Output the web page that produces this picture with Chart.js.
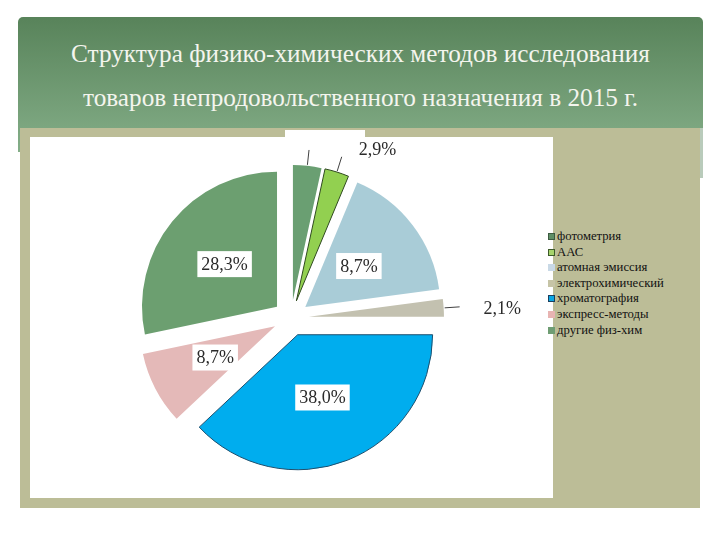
<!DOCTYPE html>
<html lang="ru">
<head>
    <meta charset="UTF-8">
    <title>Структура физико-химических методов</title>
    <script src="https://cdn.jsdelivr.net/npm/chart.js"></script>
    <style>
        body { margin: 0; width: 720px; height: 540px; background: #fff; position: relative; overflow: hidden; font-family: "Liberation Serif", "DejaVu Serif", serif; }
        .head { position: absolute; left: 18px; top: 17px; width: 685px; height: 135px; border-radius: 5px 5px 0 0;
                background: linear-gradient(#58835a, #84ae88); }
        .head-strip { position: absolute; left: 700px; top: 128px; width: 3px; height: 50px; background: #b9cbbb; }
        .title { position: absolute; left: 18px; width: 685px; text-align: center; color: #f4f5ee; font-size: 26px; transform: scaleX(0.97); }
        .panel { position: absolute; left: 20px; top: 128px; width: 680px; height: 380px; background: #bcbd97; }
        .sheet { position: absolute; left: 30px; top: 137px; width: 523px; height: 361px; background: #fff; }
        .tab { position: absolute; left: 285px; top: 130px; width: 80px; height: 8px; background: #fff; }
        #chart { position: absolute; left: 0; top: 0; }
        .legend { position: absolute; left: 548px; top: 229px; font-size: 12.7px; color: #111; line-height: 15.6px; }
        .legend div { white-space: nowrap; }
        .legend span { display: inline-block; width: 7px; height: 7px; margin-right: 2px; vertical-align: 0px; box-sizing: border-box; }
    </style>
</head>
<body>
    <div class="head"></div>
    <div class="head-strip"></div>
    <div class="title" style="top: 39px;">Структура физико-химических методов исследования</div>
    <div class="title" style="top: 83px;">товаров непродовольственного назначения в 2015 г.</div>
    <div class="panel"></div>
    <div class="sheet"></div>
    <div class="tab"></div>
    <div class="legend" id="legend"></div>
    <canvas id="chart" width="720" height="540"></canvas>

    <script>
        // данные диаграммы
        const categories = ['фотометрия', 'ААС', 'атомная эмиссия', 'электрохимический', 'хроматография', 'экспресс-методы', 'другие физ-хим'];
        const shares = [3.4, 2.9, 16.6, 2.1, 38.0, 8.7, 28.3];
        const labelTexts = ['', '2,9%', '8,7%', '2,1%', '38,0%', '8,7%', '28,3%'];
        const labelInside = [false, false, true, false, true, true, true];

        const sliceColors = ['#6a9f72', '#92d050', '#a9ccd7', '#c3c1b0', '#00adee', '#e4b9b8', '#6c9f70'];
        const sliceBorders = ['#6a9f72', '#2f4a1f', '#a9ccd7', '#c3c1b0', '#1d4f6e', '#e4b9b8', '#6c9f70'];
        const sliceBorderWidth = [0, 1, 0, 0, 1, 0, 0];
        const legendMarks = ['#5f8f66', '#a6d46c', '#c9d9e6', '#c6c4a6', '#0aa6e2', '#e8b4b2', '#6f9d73'];
        const legendMarkBorders = ['#3d5a40', '#3d5a2a', '#c9d9e6', '#c6c4a6', '#1b3f5e', '#e8b4b2', '#6f9d73'];

        const EXPLODE = 18;

        // легенда справа
        const legendBox = document.getElementById('legend');
        categories.forEach((name, i) => {
            const row = document.createElement('div');
            const mark = document.createElement('span');
            mark.style.background = legendMarks[i];
            mark.style.border = '1px solid ' + legendMarkBorders[i];
            row.appendChild(mark);
            row.appendChild(document.createTextNode(name));
            legendBox.appendChild(row);
        });

        // разнесённые сектора
        const explodePlugin = {
            id: 'explode',
            beforeDatasetDraw(chart, args) {
                const ctx = chart.ctx;
                args.meta.data.forEach(arc => {
                    const mid = (arc.startAngle + arc.endAngle) / 2;
                    ctx.save();
                    ctx.translate(Math.cos(mid) * EXPLODE, Math.sin(mid) * EXPLODE);
                    arc.draw(ctx);
                    ctx.restore();
                });
                return false;
            }
        };

        // подписи долей
        const labelPlugin = {
            id: 'sliceLabels',
            afterDatasetsDraw(chart) {
                const ctx = chart.ctx;
                const meta = chart.getDatasetMeta(0);
                ctx.save();
                ctx.font = '18px "Liberation Serif", serif';
                ctx.textBaseline = 'middle';
                meta.data.forEach((arc, i) => {
                    const mid = (arc.startAngle + arc.endAngle) / 2;
                    const cx = arc.x + Math.cos(mid) * EXPLODE;
                    const cy = arc.y + Math.sin(mid) * EXPLODE;
                    const r = arc.outerRadius;
                    const text = labelTexts[i];
                    if (labelInside[i]) {
                        const x = cx + Math.cos(mid) * r * 0.5;
                        const y = cy + Math.sin(mid) * r * 0.5;
                        const w = ctx.measureText(text).width + 8;
                        ctx.fillStyle = '#ffffff';
                        ctx.fillRect(x - w / 2, y - 13, w, 26);
                        ctx.fillStyle = '#2a2a2a';
                        ctx.textAlign = 'center';
                        ctx.fillText(text, x, y + 1);
                    } else {
                        ctx.strokeStyle = '#404040';
                        ctx.lineWidth = 1;
                        ctx.beginPath();
                        ctx.moveTo(cx + Math.cos(mid) * (r + 1), cy + Math.sin(mid) * (r + 1));
                        ctx.lineTo(cx + Math.cos(mid) * (r + 16), cy + Math.sin(mid) * (r + 16));
                        ctx.stroke();
                        if (text) {
                            const x = cx + Math.cos(mid) * (r + 26);
                            const y = cy + Math.sin(mid) * (r + 26);
                            ctx.fillStyle = '#2a2a2a';
                            ctx.textAlign = 'left';
                            ctx.fillText(text, x + 14, y + 3);
                        }
                    }
                });
                ctx.restore();
            }
        };

        new Chart(document.getElementById('chart').getContext('2d'), {
            type: 'pie',
            data: {
                labels: categories,
                datasets: [{
                    data: shares,
                    backgroundColor: sliceColors,
                    borderColor: sliceBorders,
                    borderWidth: sliceBorderWidth
                }]
            },
            options: {
                responsive: false,
                animation: false,
                radius: 135,
                layout: { padding: { left: 140, right: 278, top: 150, bottom: 54 } },
                plugins: {
                    legend: { display: false },
                    title: { display: false },
                    tooltip: { enabled: false }
                }
            },
            plugins: [explodePlugin, labelPlugin]
        });
    </script>
</body>
</html>
